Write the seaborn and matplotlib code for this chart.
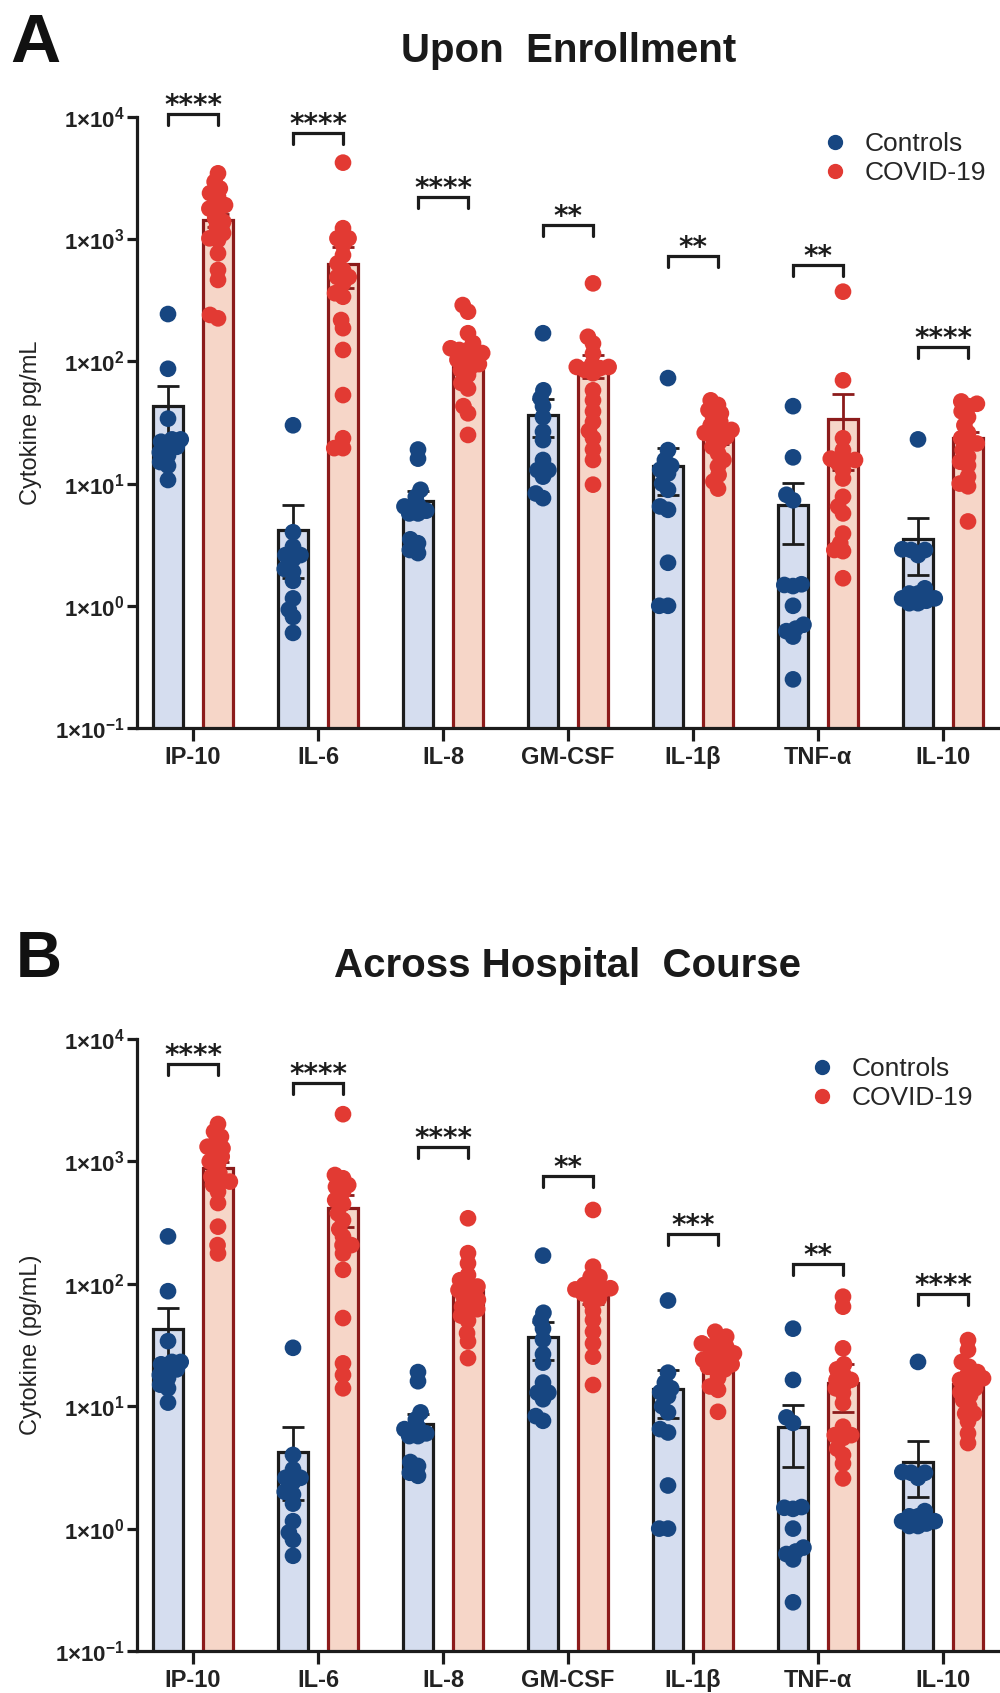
import matplotlib
matplotlib.use("Agg")
import matplotlib.pyplot as plt
from matplotlib.lines import Line2D
from matplotlib.ticker import FixedLocator, FuncFormatter, NullLocator
import seaborn as sns
import pandas as pd
import numpy as np

# ---- data ----
cytokines = ["IP-10", "IL-6", "IL-8", "GM-CSF", "IL-1β", "TNF-α", "IL-10"]
groups = ["Controls", "COVID-19"]

# control samples (same in both panels), one list per cytokine
ctrl_points = [
    [244, 87, 34, 23, 23, 22, 20, 20, 18, 17, 15, 14, 10.7],
    [30, 4.0, 3.05, 2.6, 2.6, 2.4, 2.0, 1.9, 1.6, 1.15, 0.93, 0.81, 0.6],
    [19, 16, 8.9, 7.8, 6.7, 6.5, 6.0, 5.7, 5.7, 3.5, 3.25, 2.86, 2.7],
    [170, 58, 50, 43, 35, 26.6, 22.7, 15.6, 12.9, 12.9, 11.4, 8.3, 7.6],
    [73, 18.8, 15.6, 14, 13, 12.1, 10, 8.9, 6.5, 6.1, 2.25, 1.0, 1.0],
    [43, 16.4, 8.1, 7.3, 1.5, 1.48, 1.45, 1.0, 0.7, 0.65, 0.62, 0.56, 0.25],
    [23, 2.9, 2.86, 2.86, 2.6, 1.39, 1.26, 1.26, 1.15, 1.15, 1.1, 1.05, 1.05],
]
ctrl_mean = [43, 4.2, 7.2, 36.5, 13.8, 6.7, 3.5]
ctrl_sem = [20, 2.5, 1.5, 12.5, 5.8, 3.5, 1.7]

# COVID-19 upon enrollment
covid_enroll_points = [
    [3460, 2950, 2600, 2380, 2230, 1900, 1780, 1730, 1480, 1390, 1250, 1120, 1016, 985, 767, 560, 464, 240, 225],
    [4230, 1230, 1016, 1016, 900, 741, 634, 560, 490, 490, 435, 361, 338, 218, 187, 124, 53, 23.5, 19.5, 19.5],
    [289, 255, 170, 141, 128, 124, 124, 117, 110, 103, 103, 95, 90, 85, 77.5, 66.5, 60, 43, 37.6, 25],
    [435, 159, 140, 116, 95, 90, 90, 88, 85, 80, 58, 48, 39, 32, 27, 23.5, 19, 15.6, 9.8],
    [48, 44, 40, 37.6, 35, 32, 30, 27.5, 27.5, 26, 24.2, 24.2, 22, 20, 17.7, 15.6, 13.8, 11.8, 10.4, 9.1],
    [372, 70, 23.5, 18.8, 16, 15.6, 15.6, 14.7, 12.9, 11, 7.8, 6.5, 5.7, 3.9, 3.25, 2.86, 2.8, 1.68],
    [47, 45, 43, 39, 35, 30, 26, 23.5, 21.3, 21.3, 18.8, 16.6, 15.1, 14.1, 11.4, 10, 9.5, 4.9],
]
covid_enroll_mean = [1440, 632, 105, 93, 23.5, 33.5, 23.5]
covid_enroll_sem = [180, 230, 15, 20, 2.5, 20.5, 3]
enroll_stars = ["****", "****", "****", "**", "**", "**", "****"]

# COVID-19 across hospital course
covid_course_points = [
    [2020, 1750, 1590, 1405, 1318, 1280, 1200, 1095, 1000, 950, 800, 750, 684, 684, 643, 565, 457, 293, 207, 177],
    [2430, 774, 728, 641, 620, 565, 483, 450, 376, 331, 280, 243, 207, 207, 177, 130, 52.5, 22.4, 18, 14],
    [343, 178, 147, 118, 107, 100, 95, 89, 85, 78.5, 74, 70, 65, 62, 59, 55, 50, 39.5, 33.8, 24.7],
    [401, 138, 114, 114, 98, 98, 92, 90, 88, 83.5, 83.5, 76, 70, 60, 50.6, 40.6, 32.6, 25.4, 14.9],
    [40.6, 37, 35, 32.6, 30.6, 30.6, 28, 27, 26.2, 25, 24, 23.8, 22, 21, 20, 19.8, 17, 14.5, 13.6, 9],
    [78.5, 65, 29.7, 22, 20, 18, 16.4, 16.4, 15, 14, 12.8, 10.6, 6.8, 5.8, 5.8, 5.5, 4.5, 4.0, 3.4, 2.57],
    [34.7, 28.8, 23, 21, 19, 18, 16.9, 16.4, 16.4, 15, 14, 13, 12.3, 11.2, 10, 8.7, 8.7, 7.5, 6.0, 5.0],
]
covid_course_mean = [880, 414, 88, 86, 24, 15.5, 15.2]
covid_course_sem = [110, 121, 15, 18, 2, 6.5, 2]
course_stars = ["****", "****", "****", "**", "***", "**", "****"]

# ---- style ----
sns.set_theme(style="ticks")
plt.rcParams["font.family"] = ["Liberation Sans", "DejaVu Sans"]
plt.rcParams["mathtext.fontset"] = "custom"
plt.rcParams["mathtext.rm"] = "Liberation Sans:bold"
plt.rcParams["mathtext.it"] = "Liberation Sans:bold"
plt.rcParams["mathtext.bf"] = "Liberation Sans:bold"

fill_colors = {"Controls": "#d5ddef", "COVID-19": "#f6d6c8"}
edge_colors = {"Controls": "#1c1c1c", "COVID-19": "#8c1b1b"}
dot_colors = {"Controls": "#174681", "COVID-19": "#e23a33"}
axis_color = "#1c1c1c"
SWARM_SIZE = 6     # size used to place the swarm (dots overlap like Prism)
DOT_SIZE = 12      # size the dots are drawn with


def long_points(ctrl, covid):
    rows = []
    for name, c_vals, v_vals in zip(cytokines, ctrl, covid):
        rows += [(name, "Controls", v) for v in c_vals]
        rows += [(name, "COVID-19", v) for v in v_vals]
    return pd.DataFrame(rows, columns=["cytokine", "group", "value"])


def summary(c_mean, c_sem, v_mean, v_sem):
    rows = []
    for i, name in enumerate(cytokines):
        rows.append((name, "Controls", c_mean[i], c_sem[i]))
        rows.append((name, "COVID-19", v_mean[i], v_sem[i]))
    return pd.DataFrame(rows, columns=["cytokine", "group", "mean", "sem"])


def draw_panel(ax, pts, summ, stars, bracket_levels, ylabel, legend_anchor):
    ax.set_yscale("log", nonpositive="clip")
    sns.barplot(data=summ, x="cytokine", y="mean", hue="group",
                order=cytokines, hue_order=groups, palette=fill_colors,
                width=0.8, gap=0.4, errorbar=None, legend=False,
                linewidth=2.3, ax=ax)
    centers = {}
    for grp, cont in zip(groups, ax.containers):
        xs, hs = [], []
        for p in cont.patches:
            top = p.get_y() + p.get_height()
            # start the bar below the visible range so it shows on log axis
            p.set_y(1e-3)
            p.set_height(top - 1e-3)
            p.set_edgecolor(edge_colors[grp])
            p.set_facecolor(fill_colors[grp])
            p.set_linewidth(2.3)
            p.set_zorder(1)
            xs.append(p.get_x() + p.get_width() / 2)
            hs.append(top)
        centers[grp] = xs
        sem = summ.loc[summ["group"] == grp, "sem"].to_numpy()
        ax.errorbar(xs, hs, yerr=sem, fmt="none", ecolor=edge_colors[grp],
                    elinewidth=2, capsize=8, capthick=2, zorder=2)

    n_before = len(ax.collections)
    sns.swarmplot(data=pts, x="cytokine", y="value", hue="group",
                  order=cytokines, hue_order=groups, palette=dot_colors,
                  dodge=True, size=SWARM_SIZE, legend=False, ax=ax, zorder=3,
                  warn_thresh=1)
    swarm_colls = ax.collections[n_before:]

    # significance brackets
    for i, (s, lev) in enumerate(zip(stars, bracket_levels)):
        x0, x1 = centers["Controls"][i], centers["COVID-19"][i]
        top, bot = 10 ** lev, 10 ** (lev - 0.09)
        ax.plot([x0, x0, x1, x1], [bot, top, top, bot], color=axis_color,
                lw=2.3, clip_on=False, solid_joinstyle="miter", zorder=4)
        ax.text((x0 + x1) / 2, top, s, ha="center", va="baseline",
                fontsize=20, fontweight="bold", family="DejaVu Sans",
                color=axis_color, clip_on=False)

    ax.set_ylim(0.1, 1e4)
    ax.set_xlim(-0.448, 6.456)
    ax.yaxis.set_major_locator(FixedLocator([0.1, 1, 10, 100, 1000, 10000]))
    ax.yaxis.set_minor_locator(NullLocator())
    ax.yaxis.set_major_formatter(FuncFormatter(
        lambda v, p: r"$1{\times}10^{%d}$" % int(round(np.log10(v)))))
    ax.set_xlabel("")
    ax.set_ylabel(ylabel, fontsize=17, color="#222222")
    ax.yaxis.set_label_coords(-0.110, 0.5)
    sns.despine(ax=ax)
    for side in ["left", "bottom"]:
        ax.spines[side].set_linewidth(2.3)
        ax.spines[side].set_color(axis_color)
    ax.tick_params(axis="x", length=9, width=2.3, color=axis_color, pad=4,
                   labelsize=17, labelcolor="#222222")
    ax.tick_params(axis="y", length=7, width=2.3, color=axis_color, pad=2,
                   labelsize=16, labelcolor="#222222")
    for lab in ax.get_xticklabels():
        lab.set_fontweight("bold")

    handles = [Line2D([], [], ls="", marker="o", markersize=10,
                      color=dot_colors[g]) for g in groups]
    ax.legend(handles, groups, loc="upper left", bbox_to_anchor=legend_anchor,
              bbox_transform=ax.figure.transFigure, frameon=False, fontsize=19,
              handlelength=1.0, handletextpad=0.6, labelspacing=0.2,
              borderpad=0, borderaxespad=0)
    return swarm_colls


fig = plt.figure(figsize=(10, 16.93), dpi=100)
ax_a = fig.add_axes([0.137, 0.570, 0.863, 0.3609])
ax_b = fig.add_axes([0.137, 0.0248, 0.863, 0.3615])

swarms = draw_panel(ax_a, long_points(ctrl_points, covid_enroll_points),
                    summary(ctrl_mean, ctrl_sem, covid_enroll_mean, covid_enroll_sem),
                    enroll_stars, [4.025, 3.869, 3.345, 3.116, 2.863, 2.789, 2.118],
                    "Cytokine pg/mL", (0.822, 0.922))
swarms += draw_panel(ax_b, long_points(ctrl_points, covid_course_points),
                     summary(ctrl_mean, ctrl_sem, covid_course_mean, covid_course_sem),
                     course_stars, [3.793, 3.638, 3.12, 2.883, 2.41, 2.165, 1.913],
                     "Cytokine (pg/mL)", (0.809, 0.3756))

fig.text(0.010, 0.9634, "A", fontsize=50, fontweight="bold", va="baseline", color="#111111")
fig.text(0.569, 0.9634, "Upon  Enrollment", fontsize=29, fontweight="bold",
         ha="center", va="baseline", color="#1a1a1a")
fig.text(0.016, 0.4229, "B", fontsize=46, fontweight="bold", va="baseline", color="#111111")
fig.text(0.568, 0.4229, "Across Hospital  Course", fontsize=29, fontweight="bold",
         ha="center", va="baseline", color="#1a1a1a")

# place the swarms with small dots, then freeze them and draw bigger dots
fig.canvas.draw()
for coll in swarms:
    if "draw" in coll.__dict__:
        del coll.draw
    coll.set_sizes([DOT_SIZE ** 2])

fig.savefig("out.png", dpi=100)
